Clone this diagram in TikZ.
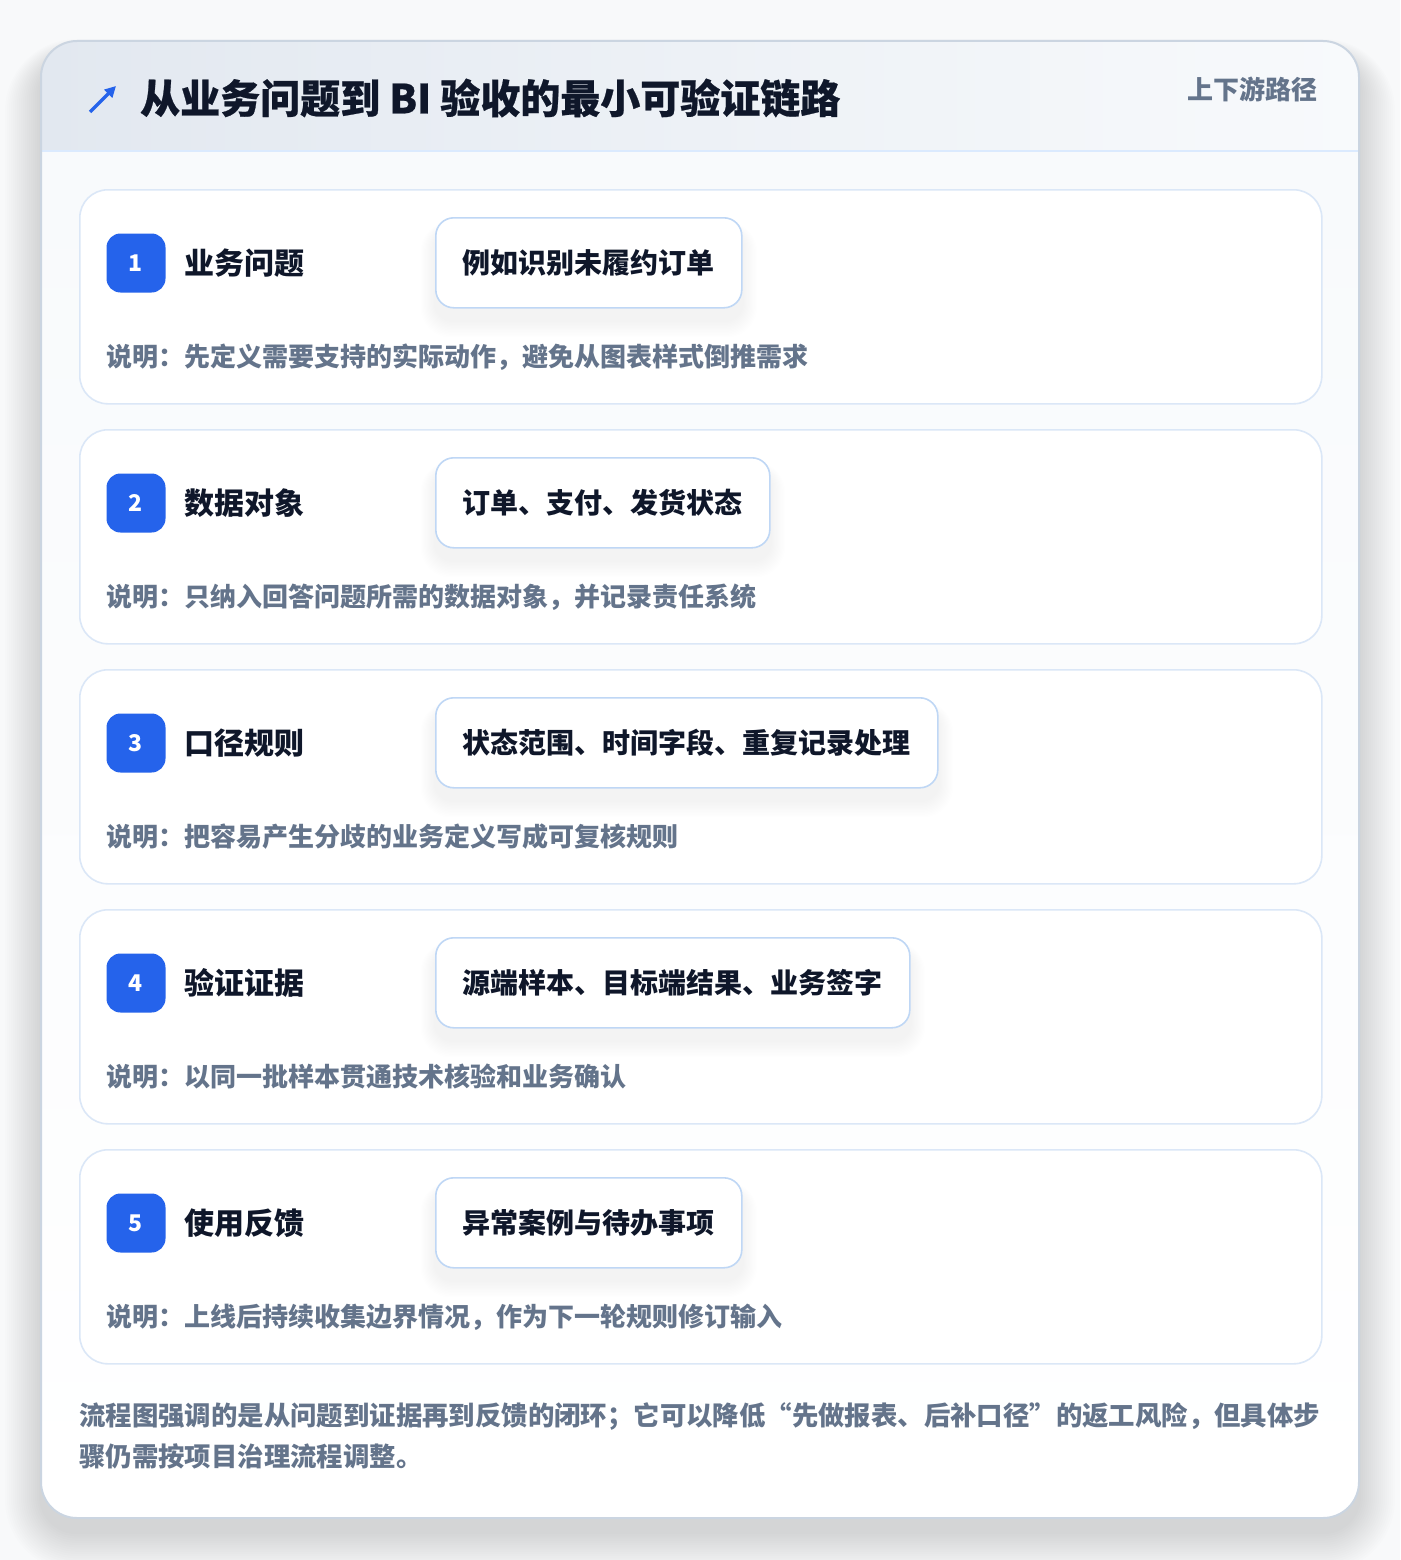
\documentclass[tikz,border=0pt]{standalone}
\usepackage{fontspec}
\setmainfont{Noto Sans CJK SC}
\newfontfamily\titlefont{Noto Sans CJK SC}[BoldFeatures={FakeBold=0.6}]
\usetikzlibrary{arrows.meta,calc}
\definecolor{pagebg}{HTML}{F8F9FA}
\definecolor{accent}{HTML}{2563EB}
\definecolor{ink}{HTML}{0F172A}
\definecolor{muted}{HTML}{64748B}
\definecolor{outerline}{HTML}{CBD5E1}
\definecolor{cardline}{HTML}{DBE7F7}
\definecolor{pillline}{HTML}{BFD7F5}
\definecolor{hdrL}{HTML}{E2E8F0}
\definecolor{hdrR}{HTML}{F8FAFC}
\definecolor{hdrline}{HTML}{DBEAFE}
\definecolor{bodytop}{HTML}{F8FAFC}
\pgfdeclarelayer{bg}
\pgfdeclarelayer{shad}
\pgfsetlayers{bg,shad,main}
\begin{document}
\begin{tikzpicture}[x=1pt,y=-1pt,
  card/.style={draw=cardline, line width=1.6pt, fill=white, rounded corners=28pt,
    minimum width=1242pt, minimum height=214pt, anchor=north west, inner sep=0pt},
  badge/.style={fill=accent, rounded corners=14pt, minimum size=59pt, inner sep=0pt,
    text=white, font=\fontsize{23}{27}\selectfont\bfseries},
  steplabel/.style={anchor=west, inner sep=0pt, text=ink, font=\fontsize{30}{36}\selectfont\bfseries},
  pill/.style={draw=pillline, line width=1.6pt, fill=white, rounded corners=18pt,
    anchor=north west, minimum height=90pt, inner xsep=27pt, inner ysep=0pt,
    text=ink, font=\fontsize{28}{34}\selectfont\bfseries},
  desc/.style={anchor=west, inner sep=0pt, text=muted, font=\fontsize{26}{32}\selectfont\bfseries},
  title/.style={anchor=west, inner sep=0pt, text=ink, font=\fontsize{40}{48}\selectfont\titlefont\bfseries},
  tag/.style={anchor=east, inner sep=0pt, text=muted, font=\fontsize{26}{32}\selectfont\bfseries},
  note/.style={anchor=north west, inner sep=0pt, text=muted, align=left,
    font=\fontsize{26.4}{41}\selectfont\bfseries}
]
\useasboundingbox (0,0) rectangle (1400,1560);
\begin{pgfonlayer}{bg}
  \fill[pagebg] (0,0) rectangle (1400,1560);
  % outer soft shadow
  \foreach \k in {1,...,18} {
    \pgfmathsetmacro\rr{36+2*\k}
    \fill[black, opacity=0.0065, rounded corners=\rr pt]
      (41-2*\k, 41-1*\k+16) rectangle (1359+2*\k, 1518+2.2*\k+14);
  }
  % main card
  \fill[white, rounded corners=36pt] (41,41) rectangle (1359,1518);
  \begin{scope}
    \clip[rounded corners=36pt] (41,41) rectangle (1359,1518);
    \shade[left color=hdrL, right color=hdrR] (41,41) rectangle (1359,151);
    \shade[top color=bodytop, bottom color=white] (41,151) rectangle (1359,1518);
  \end{scope}
  \draw[hdrline, line width=1.6pt] (41,151) -- (1359,151);
  \draw[outerline, line width=2pt, rounded corners=36pt] (41,41) rectangle (1359,1518);
  % step cards
  \foreach \i in {1,...,5} {
    \node[card] (c\i) at (79, 189+240*\i-240) {};
  }
\end{pgfonlayer}

% header
\draw[accent, line width=3.4pt, -{Triangle[length=11pt,width=11pt]}] (90,112) -- (116,86);
\node[title] (ttl) at (140,98) {从业务问题到 BI 验收的最小可验证链路};
\node[tag] (tg) at (1318,89) {上下游路径};

% steps
\foreach \i/\lab/\pv/\dv in {
  1/业务问题/例如识别未履约订单/先定义需要支持的实际动作，避免从图表样式倒推需求,
  2/数据对象/订单、支付、发货状态/只纳入回答问题所需的数据对象，并记录责任系统,
  3/口径规则/状态范围、时间字段、重复记录处理/把容易产生分歧的业务定义写成可复核规则,
  4/验证证据/源端样本、目标端结果、业务签字/以同一批样本贯通技术核验和业务确认,
  5/使用反馈/异常案例与待办事项/上线后持续收集边界情况，作为下一轮规则修订输入} {
  \pgfmathsetmacro\ty{189+240*(\i-1)}
  \node[badge] (b\i) at (136, \ty+74) {\i};
  \node[steplabel] (l\i) at (184, \ty+74) {\lab};
  \node[pill] (p\i) at (435, \ty+28) {\pv};
  \node[desc] (d\i) at (106, \ty+168) {说明：\dv};
  \begin{pgfonlayer}{shad}
    \foreach \k in {1,...,12} {
      \pgfmathsetmacro\rr{18+\k}
      \fill[black, opacity=0.0055, rounded corners=\rr pt]
        ($(p\i.north west)+(-1.2*\k, 12-0.6*\k)$) rectangle ($(p\i.south east)+(1.2*\k, 12+1.4*\k)$);
    }
  \end{pgfonlayer}
}

% footnote
\node[note] (nt) at (79,1402) {流程图强调的是从问题到证据再到反馈的闭环；它可以降低“先做报表、后补口径”的返工风险，但具体步\\骤仍需按项目治理流程调整。};
\end{tikzpicture}
\end{document}
